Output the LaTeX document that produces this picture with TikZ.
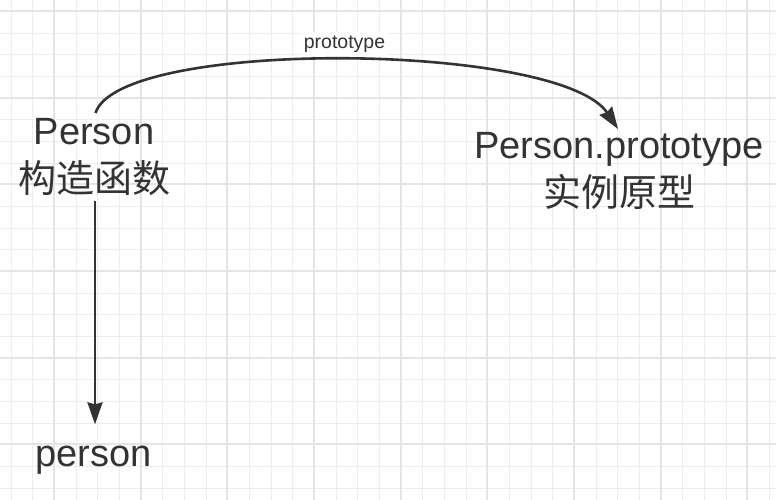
\documentclass[tikz,border=0pt]{standalone}
\usepackage{fontspec}
\setmainfont{Liberation Sans}
\newfontfamily\cjk{Noto Sans CJK SC}
\usetikzlibrary{arrows.meta, positioning}
\definecolor{ink}{HTML}{333333}
\definecolor{gridminor}{HTML}{EDEDED}
\definecolor{gridmajor}{HTML}{E4E4E4}

\begin{document}
\begin{tikzpicture}[x = 1pt, y = -1pt,
  minorgrid/.style = {draw = gridminor, line width = 1pt},
  majorgrid/.style = {draw = gridmajor, line width = 2pt},
  bigtext/.style = {text = ink, inner sep = 0pt, align = center,
    font = \fontsize{38}{48}\selectfont},
  smalltext/.style = {text = ink, fill = white, inner sep = 0pt,
    minimum width = 86pt, minimum height = 24pt,
    font = \fontsize{19.5}{21}\selectfont},
  conn/.style = {draw = ink, line width = 2.6pt,
    -{Stealth[length = 22pt, width = 15pt, inset = 2pt]}}]
\useasboundingbox (0, 0) rectangle (776, 500);
\fill[white] (0, 0) rectangle (776, 500);
\foreach \i in {0, ..., 35}
  \draw[minorgrid] ({round(10.7 + 21.667*\i) + 0.5}, 0) -- ++(0, 500);
\foreach \j in {0, ..., 22}
  \draw[minorgrid] (0, {round(11 + 21.667*\j) + 0.5}) -- ++(776, 0);
\foreach \i in {0, ..., 8}
  \draw[majorgrid] ({round(54 + 86.667*\i)}, 0) -- ++(0, 500);
\foreach \j in {0, ..., 5}
  \draw[majorgrid] (0, {round(11 + 86.667*\j)}) -- ++(776, 0);
\node[bigtext, anchor = north] (ctor) at (94, 118) {Person\\{\cjk 构造函数}};
\node[bigtext, anchor = north] (proto) at (619, 132) {Person.prototype\\{\cjk 实例原型}};
\node[bigtext, anchor = base] (person) at (93.5, 466) {person};
\draw[conn] ([xshift = 1.5pt, yshift = 5pt]ctor.north)
  .. controls +(24, -75) and +(-58, -87) .. ([xshift = -1pt, yshift = 3pt]proto.north);
\node[smalltext] (protolabel) at (344.5, 44) {prototype};
\draw[conn, shorten < = 5pt, shorten > = 21pt] ([xshift = 1pt]ctor.south) -- ([xshift = 1.5pt]person.north);
\end{tikzpicture}
\end{document}
